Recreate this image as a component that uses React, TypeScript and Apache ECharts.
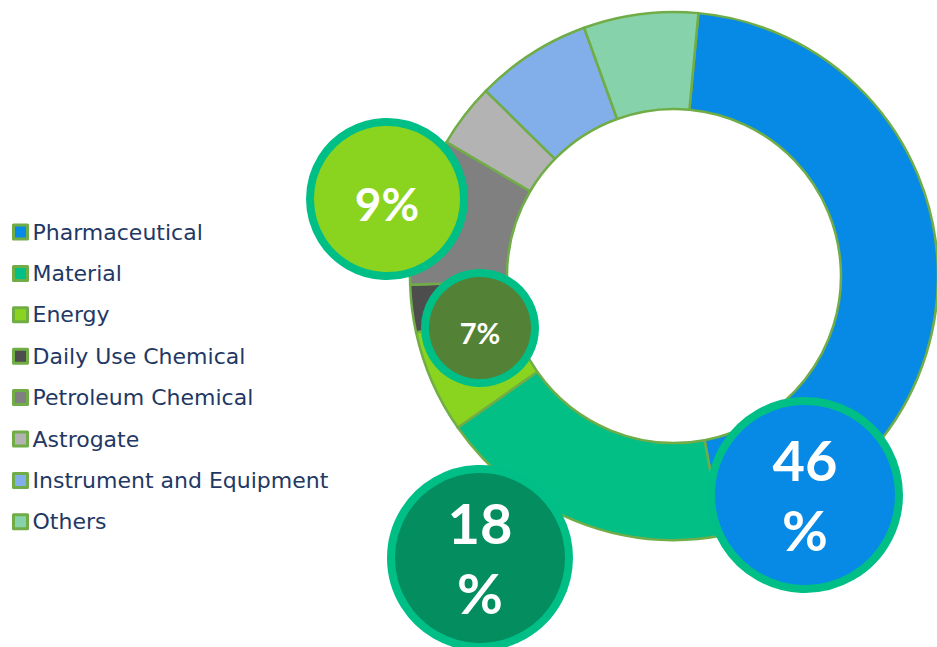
import React, { useEffect, useRef } from "react";
import * as echarts from "echarts";

const categories = [
  "Pharmaceutical",
  "Material",
  "Energy",
  "Daily Use Chemical",
  "Petroleum Chemical",
  "Astrogate",
  "Instrument and Equipment",
  "Others",
];
const shares = [45.6, 18.2, 6.3, 2.9, 9.0, 3.9, 7.1, 7.0];
const colors = ["#068AE5", "#02BF86", "#8AD41F", "#4D4D4D", "#808080", "#B3B3B3", "#82AFEA", "#86D3AB"];
const bubbleLines = [["46", "%"], ["18", "%"], ["9%"], ["7%"]];
const bubbleFills = ["#068AE5", "#048E60", "#8AD41F", "#538135"];

export default function App() {
  const ref = useRef<HTMLDivElement>(null);
  useEffect(() => {
    if (!ref.current) return;
    const chart = echarts.init(ref.current, undefined, { renderer: "svg" });
    const ring = "#00BF86";
    const bubbleGeom = [
      { x: 805, y: 495, r: 94, fs: 56, lh: 70 },
      { x: 480, y: 558, r: 89, fs: 56, lh: 70 },
      { x: 387, y: 199, r: 77, fs: 46, lh: 50 },
      { x: 480, y: 328, r: 55, fs: 29, lh: 30 },
    ];
    const graphics: any[] = [];
    bubbleGeom.forEach((g, i) => {
      graphics.push({
        type: "circle",
        shape: { cx: g.x, cy: g.y, r: g.r },
        style: { fill: bubbleFills[i], stroke: ring, lineWidth: 8 },
        z: 100,
      });
      const lines = bubbleLines[i];
      lines.forEach((t, j) => {
        const off = (j - (lines.length - 1) / 2) * g.lh;
        graphics.push({
          type: "text",
          x: g.x,
          y: g.y + off + (lines.length === 1 ? 4 : -1),
          style: {
            text: t,
            fill: "#ffffff",
            font: `bold ${g.fs}px Lato`,
            textAlign: "center",
            textVerticalAlign: "middle",
          },
          z: 101,
        });
      });
    });
    chart.setOption({
      animation: false,
      backgroundColor: "#ffffff",
      legend: {
        orient: "vertical",
        left: 7,
        top: 215.5,
        itemWidth: 14,
        itemHeight: 14,
        itemGap: 18.4,
        icon: "rect",
        itemStyle: { borderColor: "#70AD47", borderWidth: 3 },
        textStyle: { color: "#1F3864", fontSize: 22, fontFamily: "DejaVu Sans", lineHeight: 23 },
        data: categories,
      },
      series: [
        {
          type: "pie",
          center: [674, 276],
          radius: [167, 264],
          startAngle: 84.7,
          clockwise: true,
          label: { show: false },
          labelLine: { show: false },
          emphasis: { disabled: true },
          itemStyle: { borderColor: "#70AD47", borderWidth: 2.5 },
          data: categories.map((c, i) => ({ name: c, value: shares[i], itemStyle: { color: colors[i] } })),
        },
      ],
      graphic: graphics,
    });
    return () => chart.dispose();
  }, []);
  return <div ref={ref} style={{ position: "fixed", left: 0, top: 0, width: 937, height: 647 }} />;
}
